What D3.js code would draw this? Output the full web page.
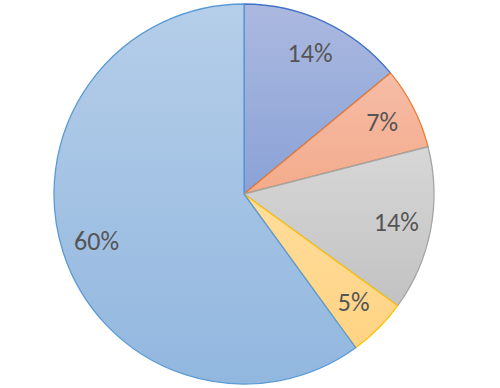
<!DOCTYPE html>
<html>
<head>
<meta charset="utf-8">
<script src="https://cdn.jsdelivr.net/npm/d3@7"></script>
<style>
  html, body { margin: 0; padding: 0; background: #fff; }
  svg { display: block; }
</style>
</head>
<body>
<svg id="pie" width="500" height="388"></svg>
<script>
// slice values in percent, clockwise from 12 o'clock
var categories = ["A", "B", "C", "D", "E"];
var shares = [14, 7, 14, 5, 60];
var labels = ["14%", "7%", "14%", "5%", "60%"];

var lineColors = ["#4472c4", "#ed7d31", "#a5a5a5", "#ffc000", "#5b9bd5"];
var topColors = ["#abb9e0", "#f6bca6", "#d7d7d7", "#ffdd9c", "#b5cee9"];
var bottomColors = ["#8aa2d6", "#f3ab8b", "#c2c2c2", "#ffd383", "#92b7df"];

var svg_pie = d3.select("#pie"),
  cx = 244,
  cy = 194,
  radius = 190;

var defs = svg_pie.append("defs");
categories.forEach(function (c, i) {
  var grad = defs.append("linearGradient")
    .attr("id", "grad-" + i)
    .attr("x1", 0).attr("y1", 0)
    .attr("x2", 0).attr("y2", 1);
  grad.append("stop").attr("offset", "0%").attr("stop-color", topColors[i]);
  grad.append("stop").attr("offset", "100%").attr("stop-color", bottomColors[i]);
});

var pie = d3.pie().sort(null).value(function (d) { return d.value; });
var arc = d3.arc().innerRadius(0).outerRadius(radius);
var labelArc = d3.arc().innerRadius(155).outerRadius(155);

var data = categories.map(function (c, i) {
  return { name: c, value: shares[i], label: labels[i], i: i };
});

var g_pie = svg_pie.append("g")
  .attr("transform", "translate(" + cx + "," + cy + ")");

var slices = g_pie.selectAll(".slice")
  .data(pie(data))
  .enter().append("g")
  .attr("class", "slice");

slices.append("path")
  .attr("d", arc)
  .attr("fill", function (d) { return "url(#grad-" + d.data.i + ")"; })
  .attr("stroke", function (d) { return lineColors[d.data.i]; })
  .attr("stroke-width", 1.3)
  .attr("stroke-linejoin", "round");

slices.append("text")
  .attr("transform", function (d) { return "translate(" + labelArc.centroid(d) + ")"; })
  .attr("text-anchor", "middle")
  .attr("dy", "0.3em")
  .attr("font-family", "Carlito, Calibri, 'Liberation Sans', sans-serif")
  .attr("font-size", "26px")
  .attr("fill", "#555555")
  .text(function (d) { return d.data.label; });
</script>
</body>
</html>
